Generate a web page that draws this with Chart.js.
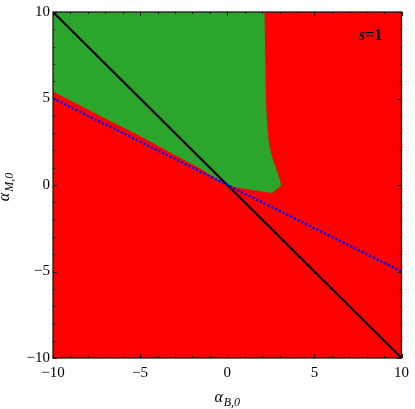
<!DOCTYPE html>
<html>
<head>
<meta charset="utf-8">
<script src="https://cdn.jsdelivr.net/npm/chart.js@4.4.1/dist/chart.umd.min.js"></script>
<style>
  body { margin: 0; background: #fff; }
  #wrap { width: 415px; height: 409px; position: relative; }
</style>
</head>
<body>
<div id="wrap"><canvas id="myChart"></canvas></div>
<script>
// tick values
const majorTicks = [-10, -5, 0, 5, 10];
const minorTicks = [-9, -8, -7, -6, -4, -3, -2, -1, 1, 2, 3, 4, 6, 7, 8, 9];

// red background region (whole square)
const redX = [-10, 10];
const redY = [10, 10];

// green region: upper edge and lower edge
const greenTopX = [-10, 2.14, 2.17, 2.2, 2.24, 2.29, 2.39, 2.52, 2.68, 2.88, 3.1];
const greenTopY = [10, 10, 8, 6, 4.5, 3.5, 2.43, 1.8, 1.29, 0.72, 0];
const greenBottomX = [-10, -7.5, -4.9, -2.8, -1.67, -0.8, 0, 0.69, 1.63, 2.58, 3.1];
const greenBottomY = [5.4, 4.1, 2.78, 1.62, 1.02, 0.48, 0, -0.17, -0.32, -0.46, 0];

// lines
const blackX = [-10, 10];
const blackY = [10, -10];
const blueX = [-10, 10];
const blueY = [5, -5];

const serif = "'Liberation Serif', 'DejaVu Serif', serif";

function pts(xs, ys) {
  return xs.map((x, i) => ({ x: x, y: ys[i] }));
}

function fmt(v) {
  return v < 0 ? '\u2212' + Math.abs(v) : String(v);
}

// frame + inside ticks on all four sides
const framePlugin = {
  id: 'frame',
  afterDatasetsDraw(chart) {
    const { ctx, chartArea: a, scales: { x, y } } = chart;
    ctx.save();
    ctx.strokeStyle = '#1a1a1a';
    ctx.lineWidth = 1;
    const all = majorTicks.map(v => [v, 4]).concat(minorTicks.map(v => [v, 2]));
    ctx.beginPath();
    all.forEach(([v, len]) => {
      const px = Math.round(x.getPixelForValue(v)) + 0.5;
      ctx.moveTo(px, a.bottom); ctx.lineTo(px, a.bottom - len);
      ctx.moveTo(px, a.top); ctx.lineTo(px, a.top + len);
      const py = Math.round(y.getPixelForValue(v)) + 0.5;
      ctx.moveTo(a.left, py); ctx.lineTo(a.left + len, py);
      ctx.moveTo(a.right, py); ctx.lineTo(a.right - len, py);
    });
    ctx.stroke();
    ctx.lineWidth = 1.3;
    ctx.strokeRect(a.left, a.top, a.right - a.left, a.bottom - a.top);
    ctx.restore();
  }
};

// axis titles with subscripts, and the s=1 note
function drawSub(ctx, main, sub, x, y) {
  ctx.font = 'italic 16px ' + serif;
  ctx.fillText(main, x, y);
  const w = ctx.measureText(main).width;
  ctx.font = 'italic 12px ' + serif;
  ctx.fillText(sub, x + w + 1, y + 4);
}

function subWidth(ctx, main, sub) {
  ctx.font = 'italic 16px ' + serif;
  const w1 = ctx.measureText(main).width;
  ctx.font = 'italic 12px ' + serif;
  return w1 + 1 + ctx.measureText(sub).width;
}

const labelPlugin = {
  id: 'labels',
  afterDraw(chart) {
    const { ctx, chartArea: a } = chart;
    ctx.save();
    ctx.fillStyle = '#000';
    ctx.textBaseline = 'alphabetic';
    ctx.textAlign = 'left';

    // x title
    const cx = (a.left + a.right) / 2;
    const wx = subWidth(ctx, '\u03b1', 'B,0');
    drawSub(ctx, '\u03b1', 'B,0', cx - wx / 2, 402);

    // y title
    const wy = subWidth(ctx, '\u03b1', 'M,0');
    ctx.translate(9, 187);
    ctx.rotate(-Math.PI / 2);
    drawSub(ctx, '\u03b1', 'M,0', -wy / 2, 0);
    ctx.restore();

    // s=1
    ctx.save();
    ctx.fillStyle = '#000';
    ctx.textBaseline = 'alphabetic';
    ctx.font = 'italic bold 16px ' + serif;
    ctx.fillText('s', 359, 40);
    const ws = ctx.measureText('s').width;
    ctx.font = 'bold 16px ' + serif;
    ctx.fillText('=1', 359 + ws, 40);
    ctx.restore();
  }
};

const config = {
  type: 'scatter',
  data: {
    datasets: [
      {
        label: 'lower',
        data: pts(redX, redY),
        showLine: true,
        borderWidth: 0,
        pointRadius: 0,
        fill: 'start',
        backgroundColor: '#ff0000',
        order: 10
      },
      {
        label: 'green top',
        data: pts(greenTopX, greenTopY),
        showLine: true,
        borderWidth: 0,
        pointRadius: 0,
        fill: '+1',
        backgroundColor: '#2ca52c',
        order: 9
      },
      {
        label: 'green bottom',
        data: pts(greenBottomX, greenBottomY),
        showLine: true,
        borderWidth: 0,
        pointRadius: 0,
        fill: false,
        order: 8
      },
      {
        label: 'black',
        data: pts(blackX, blackY),
        showLine: true,
        borderColor: '#000',
        borderWidth: 2.2,
        pointRadius: 0,
        fill: false,
        order: 2
      },
      {
        label: 'blue',
        data: pts(blueX, blueY),
        showLine: true,
        borderColor: '#0000ff',
        borderWidth: 2.5,
        borderDash: [2.2, 2],
        pointRadius: 0,
        fill: false,
        order: 1
      }
    ]
  },
  options: {
    responsive: true,
    maintainAspectRatio: false,
    animation: false,
    layout: { padding: { top: 7, right: 9, left: 0, bottom: 0 } },
    plugins: {
      legend: { display: false },
      tooltip: { enabled: false }
    },
    scales: {
      x: {
        type: 'linear',
        min: -10,
        max: 10,
        grid: { display: false, drawTicks: false },
        border: { display: false },
        afterBuildTicks: s => { s.ticks = majorTicks.map(v => ({ value: v })); },
        afterFit: s => { s.height = 51; },
        ticks: {
          color: '#000',
          font: { family: serif, size: 15 },
          padding: 6,
          maxRotation: 0,
          autoSkip: false,
          callback: v => fmt(v)
        }
      },
      y: {
        type: 'linear',
        min: -10,
        max: 10,
        grid: { display: false, drawTicks: false },
        border: { display: false },
        afterBuildTicks: s => { s.ticks = majorTicks.map(v => ({ value: v })); },
        afterFit: s => { s.width = 53; },
        ticks: {
          color: '#000',
          font: { family: serif, size: 15 },
          padding: 3,
          autoSkip: false,
          callback: v => fmt(v)
        }
      }
    }
  },
  plugins: [framePlugin, labelPlugin]
};

window.myChart = new Chart(document.getElementById('myChart'), config);
</script>
</body>
</html>
